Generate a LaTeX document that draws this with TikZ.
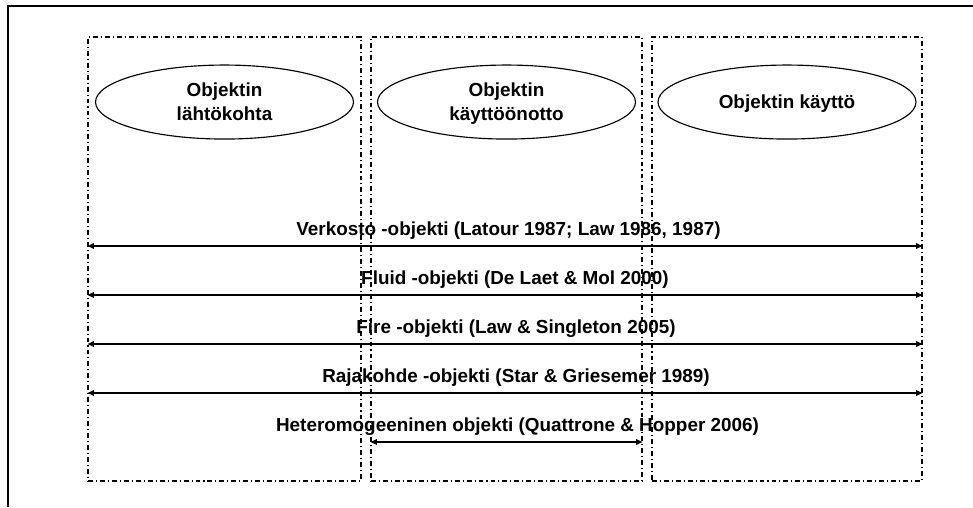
\documentclass[tikz,border=0pt]{standalone}
\usepackage{fontspec}
\setmainfont{Liberation Sans}
\usetikzlibrary{arrows.meta,positioning,shapes.geometric}

\begin{document}
\begin{tikzpicture}[
    x=0.2mm, y=-0.2mm,
    phase/.style={draw, line width=0.6pt, dash pattern=on 2.8pt off 1.7pt on 0.6pt off 1.7pt, minimum height=8.88cm, inner sep=0},
    stage/.style={draw, ellipse, line width=0.65pt, minimum width=5.16cm, minimum height=1.48cm, inner sep=0, align=center, text depth=0pt, font=\bfseries\fontsize{10.75}{13.6}\selectfont},
    span/.style={{Triangle[length=1.3mm, width=1.1mm]}-{Triangle[length=1.3mm, width=1.1mm]}, line width=1pt},
    lbl/.style={font=\bfseries\fontsize{10.75}{12}\selectfont, anchor=base, yshift=2.2mm, inner sep=0}
]
\useasboundingbox (0,0) rectangle (973,507);

% Frame
\draw[line width=0.8pt] (973,6) -- (8,6) -- (8,507);

% Phases
\node[phase, minimum width=5.46cm] (origin) at (224.5,259) {};
\node[phase, minimum width=5.42cm] (adoption) at (506.5,259) {};
\node[phase, minimum width=5.40cm] (usage) at (787,259) {};

% Stages
\node[stage, below=0.56cm of origin.north] (start) {Objektin\\lähtökohta};
\node[stage, below=0.56cm of adoption.north] (intro) {Objektin\\käyttöönotto};
\node[stage, below=0.56cm of usage.north] (use) {Objektin käyttö};

% Object concepts
\coordinate (r1) at (0,246);
\coordinate (r2) at (0,295);
\coordinate (r3) at (0,344);
\coordinate (r4) at (0,393);
\coordinate (r5) at (0,442);

\draw[span] (origin.west |- r1) -- (usage.east |- r1) node[lbl, midway, xshift=0.7mm] {Verkosto -objekti (Latour 1987; Law 1986, 1987)};
\draw[span] (origin.west |- r2) -- (usage.east |- r2) node[lbl, midway, xshift=2mm] {Fluid -objekti (De Laet \& Mol 2000)};
\draw[span] (origin.west |- r3) -- (usage.east |- r3) node[lbl, midway, xshift=2.2mm] {Fire -objekti (Law \& Singleton 2005)};
\draw[span] (origin.west |- r4) -- (usage.east |- r4) node[lbl, midway, xshift=2.2mm] {Rajakohde -objekti (Star \& Griesemer 1989)};
\draw[span] (adoption.west |- r5) -- (adoption.east |- r5) node[lbl, midway, xshift=2.2mm] {Heteromogeeninen objekti (Quattrone \& Hopper 2006)};

\end{tikzpicture}
\end{document}
